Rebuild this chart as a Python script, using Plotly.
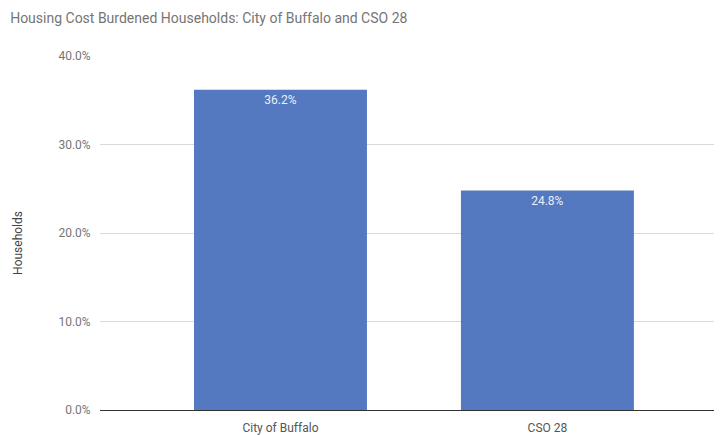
import plotly.graph_objects as go

# data
areas = ["City of Buffalo", "CSO 28"]
burdened = [36.2, 24.8]
y_ticks = [0, 10, 20, 30, 40]
y_tick_labels = ["0.0%", "10.0%", "20.0%", "30.0%", "40.0%"]

fig = go.Figure(go.Bar(
    x=areas,
    y=burdened,
    width=0.648,
    marker=dict(color="#5479c0", line=dict(width=0)),
    text=[f"{v:.1f}%" for v in burdened],
    textposition="inside",
    insidetextanchor="end",
    textfont=dict(color="#e8eefa", size=12, family="Roboto"),
    hoverinfo="x+y",
))

# page body has an 8px margin, so the figure is shrunk/shifted to compensate
fig.update_layout(
    width=714, height=427,
    margin=dict(l=92, r=0, t=48, b=25),
    paper_bgcolor="white",
    plot_bgcolor="white",
    font=dict(family="Roboto", color="#6b6b6b", size=12),
    title=dict(
        text="Housing Cost Burdened Households: City of Buffalo and CSO 28",
        x=0.003, xanchor="left", y=0.977, yanchor="middle",
        font=dict(size=14, color="#757575"),
    ),
    showlegend=False,
)

fig.update_xaxes(
    range=[-0.676, 1.654],
    showgrid=False,
    showline=True, linecolor="#333333", linewidth=1,
    ticks="", ticklabelstandoff=7, automargin=False,
    tickfont=dict(size=12, color="#555555"),
)

fig.update_yaxes(
    range=[0, 40],
    tickvals=y_ticks, ticktext=y_tick_labels,
    showgrid=True, gridcolor="#d9d9d9", gridwidth=1,
    zeroline=False,
    ticks="outside", ticklen=6, tickcolor="white",
    tickfont=dict(size=12, color="#757575"),
)

fig.add_annotation(
    text="Households", textangle=-90,
    xref="paper", yref="paper", x=0, y=0.472,
    xanchor="center", yanchor="middle", xshift=-82,
    showarrow=False, font=dict(size=12, color="#444444"),
)

fig.write_html("out.html")
